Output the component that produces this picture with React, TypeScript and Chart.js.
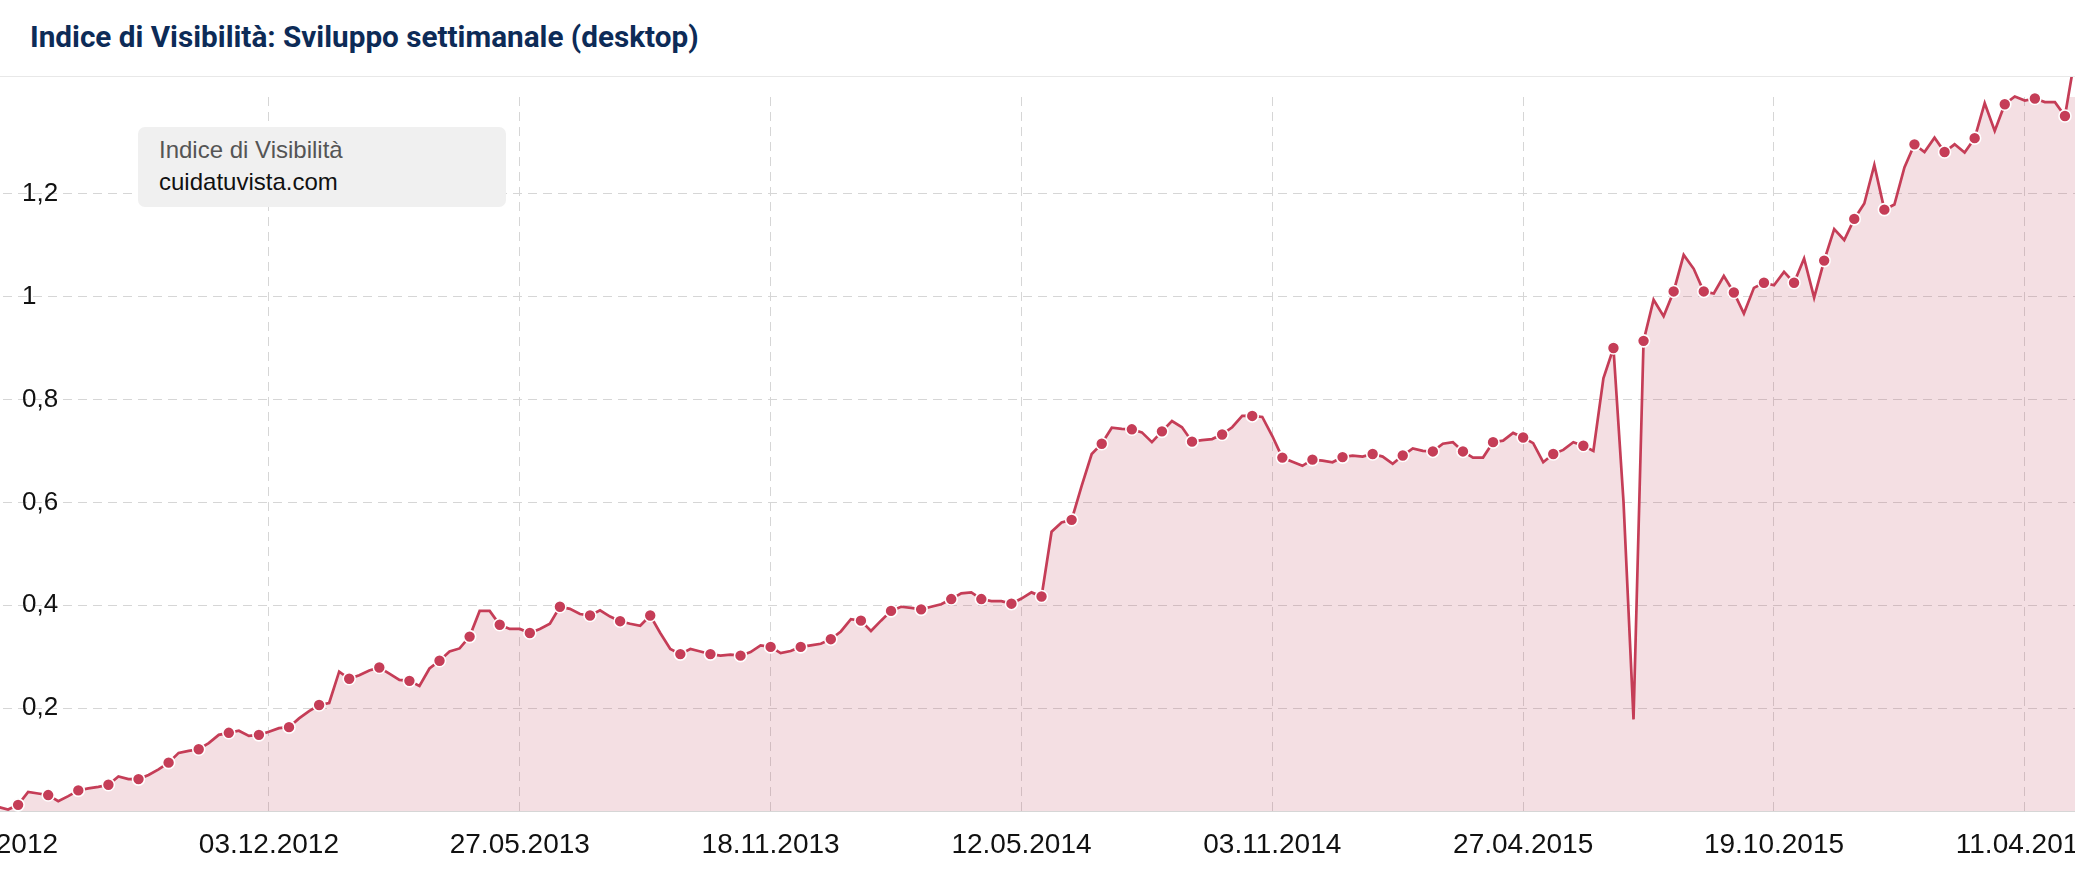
import React, { useEffect, useRef } from "react";
import { Chart, registerables } from "chart.js";

Chart.register(...registerables);

const chartTitle = "Indice di Visibilità: Sviluppo settimanale (desktop)";
const legendTitle = "Indice di Visibilità";
const seriesLabel = "cuidatuvista.com";

// weekly points, first week = 21.05.2012
const tickIndices = [0, 28, 53, 78, 103, 128, 153, 178, 203];
const tickLabels = [
  "21.05.2012",
  "03.12.2012",
  "27.05.2013",
  "18.11.2013",
  "12.05.2014",
  "03.11.2014",
  "27.04.2015",
  "19.10.2015",
  "11.04.2016",
];
const yTicks = [0.2, 0.4, 0.6, 0.8, 1, 1.2];

const visibility = [
  0.009, 0.008, 0.003, 0.012, 0.037, 0.034, 0.031, 0.019, 0.029, 0.04,
  0.044, 0.047, 0.051, 0.067, 0.062, 0.062, 0.07, 0.081, 0.094, 0.113,
  0.117, 0.12, 0.132, 0.148, 0.152, 0.156, 0.146, 0.148, 0.154, 0.161,
  0.163, 0.18, 0.194, 0.206, 0.21, 0.271, 0.257, 0.264, 0.273, 0.279,
  0.267, 0.255, 0.253, 0.243, 0.277, 0.292, 0.31, 0.316, 0.339, 0.389,
  0.389, 0.362, 0.354, 0.354, 0.346, 0.354, 0.364, 0.397, 0.393, 0.383,
  0.38, 0.39, 0.378, 0.369, 0.364, 0.36, 0.38, 0.346, 0.315, 0.305,
  0.315, 0.31, 0.305, 0.302, 0.304, 0.302, 0.309, 0.322, 0.319, 0.307,
  0.311, 0.319, 0.322, 0.325, 0.334, 0.349, 0.373, 0.37, 0.35, 0.37,
  0.389, 0.397, 0.395, 0.392, 0.397, 0.402, 0.412, 0.423, 0.425, 0.412,
  0.408, 0.408, 0.403, 0.413, 0.425, 0.417, 0.543, 0.561, 0.566, 0.632,
  0.694, 0.714, 0.745, 0.743, 0.742, 0.736, 0.717, 0.738, 0.758, 0.746,
  0.718, 0.721, 0.723, 0.732, 0.746, 0.768, 0.768, 0.766, 0.729, 0.687,
  0.679, 0.671, 0.683, 0.681, 0.678, 0.688, 0.691, 0.689, 0.694, 0.689,
  0.675, 0.691, 0.705, 0.7, 0.699, 0.714, 0.717, 0.699, 0.687, 0.687,
  0.717, 0.72, 0.735, 0.726, 0.715, 0.678, 0.694, 0.702, 0.717, 0.71,
  0.7, 0.841, 0.9, 0.602, 0.178, 0.914, 0.994, 0.962, 1.01, 1.081,
  1.054, 1.01, 1.006, 1.04, 1.008, 0.967, 1.017, 1.027, 1.022, 1.048,
  1.027, 1.074, 0.998, 1.07, 1.131, 1.11, 1.151, 1.181, 1.256, 1.169,
  1.179, 1.251, 1.296, 1.281, 1.309, 1.281, 1.296, 1.28, 1.308, 1.376,
  1.322, 1.374, 1.389, 1.381, 1.385, 1.378, 1.378, 1.351, 1.466,
];

const LINE = "#c53d57";
const FILL = "rgba(190, 64, 88, 0.17)";
const GRID = "#d6d6d6";
const TEXT = "#111111";
const FONT = "'Liberation Sans', Arial, sans-serif";

export default function App() {
  const canvasRef = useRef<HTMLCanvasElement | null>(null);

  useEffect(() => {
    const canvas = canvasRef.current;
    if (!canvas) return;
    const chart = new Chart(canvas, {
      type: "line",
      data: {
        datasets: [
          {
            label: seriesLabel,
            data: visibility.map((v, i) => ({ x: i, y: v })),
            borderColor: LINE,
            backgroundColor: FILL,
            borderWidth: 2.7,
            fill: "origin",
            tension: 0,
            pointRadius: (ctx: any) => (ctx.dataIndex % 3 === 0 ? 6 : 0),
            pointHoverRadius: (ctx: any) => (ctx.dataIndex % 3 === 0 ? 6 : 0),
            pointBackgroundColor: LINE,
            pointBorderColor: "#ffffff",
            pointBorderWidth: 1.6,
            clip: false,
          } as any,
        ],
      },
      options: {
        animation: false,
        responsive: false,
        devicePixelRatio: 1,
        layout: { autoPadding: false, padding: { top: 20, left: 0, right: 0, bottom: 0 } },
        plugins: {
          legend: { display: false },
          tooltip: { enabled: false },
          title: { display: false },
        },
        scales: {
          x: {
            type: "linear",
            min: 0,
            max: visibility.length - 1,
            afterBuildTicks: (s: any) => {
              s.ticks = tickIndices.map((v) => ({ value: v }));
            },
            afterFit: (s: any) => {
              s.paddingLeft = 0;
              s.paddingRight = 0;
              s.height = 64;
            },
            grid: { color: GRID, drawTicks: false, lineWidth: 1 },
            border: { display: true, color: GRID, width: 1, dash: [9, 6] },
            ticks: {
              autoSkip: false,
              maxRotation: 0,
              minRotation: 0,
              padding: 17,
              color: TEXT,
              font: { family: FONT, size: 28 },
              callback: (v: any) => {
                const k = tickIndices.indexOf(Number(v));
                return k >= 0 ? tickLabels[k] : "";
              },
            },
          },
          y: {
            min: 0,
            max: 1.388,
            afterBuildTicks: (s: any) => {
              s.ticks = yTicks.map((v) => ({ value: v }));
            },
            afterFit: (s: any) => {
              s.width = 0;
              s.paddingTop = 0;
              s.paddingBottom = 0;
            },
            grid: { color: GRID, drawTicks: false, lineWidth: 1 },
            border: { display: false, dash: [9, 6] },
            ticks: {
              mirror: true,
              padding: 34,
              color: TEXT,
              font: { family: FONT, size: 26 },
              callback: (v: any) => String(Number(v)).replace(".", ","),
            },
          },
        },
      } as any,
    });
    return () => chart.destroy();
  }, []);

  return (
    <div
      style={{
        position: "absolute",
        left: 0,
        top: 0,
        width: 2075,
        height: 875,
        overflow: "hidden",
        background: "#ffffff",
      }}
    >
      <div
        style={{
          position: "absolute",
          left: 30,
          top: 20,
          fontFamily: "Roboto, 'Noto Sans', sans-serif",
          fontWeight: 700,
          fontSize: 29.7,
          lineHeight: "34px",
          color: "#0d2b57",
          whiteSpace: "nowrap",
        }}
      >
        {chartTitle}
      </div>
      <div
        style={{
          position: "absolute",
          left: 0,
          top: 76,
          width: 2075,
          height: 1,
          background: "#e8e8e8",
        }}
      />
      <canvas
        ref={canvasRef}
        width={2087}
        height={798}
        style={{ position: "absolute", left: -12, top: 77, width: 2087, height: 798 }}
      />
      <div
        style={{
          position: "absolute",
          left: 138,
          top: 127,
          width: 368,
          height: 80,
          boxSizing: "border-box",
          background: "#f0f0f0",
          borderRadius: 7,
          paddingLeft: 21,
          paddingTop: 7,
          fontFamily: FONT,
          fontSize: 24,
          lineHeight: "32px",
        }}
      >
        <div style={{ color: "#555555" }}>{legendTitle}</div>
        <div style={{ color: "#111111" }}>{seriesLabel}</div>
      </div>
    </div>
  );
}
